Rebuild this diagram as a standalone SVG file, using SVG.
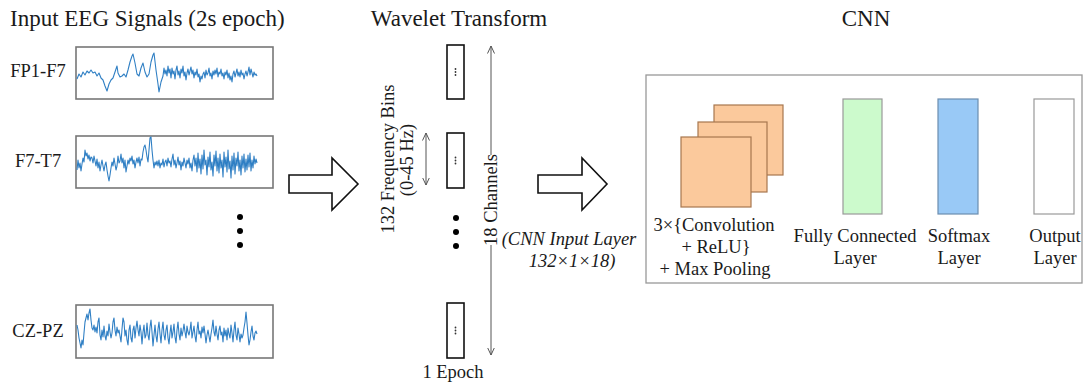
<svg xmlns="http://www.w3.org/2000/svg" width="1088" height="386" viewBox="0 0 1088 386">
<style>
text{font-family:"Liberation Serif","Times New Roman",serif;fill:#1a1a1a}
.title{font-size:23px}
.lbl{font-size:18.5px}
.it{font-size:18.5px;font-style:italic}
.eegbox{fill:#fff;stroke:#777;stroke-width:1.6}
.sig{fill:none;stroke:#2f7fc4;stroke-width:1.1;stroke-linejoin:round}
.wbox{fill:#fff;stroke:#111;stroke-width:1.6}
.dot{fill:#000}
.tiny{fill:#333}
.big{fill:#fff;stroke:#111;stroke-width:1.6;stroke-linejoin:miter}
.small{fill:#fff;stroke:#8a8a8a;stroke-width:1.2}
.dim{stroke:#555;stroke-width:1;fill:none}
.orange{fill:#fbc99c;stroke:#a7774f;stroke-width:1.2}
.layer{stroke:#999;stroke-width:1.2}
</style>
<defs>
<marker id="v" viewBox="0 0 8 8" refX="7.5" refY="4" markerWidth="8" markerHeight="8" markerUnits="userSpaceOnUse" orient="auto-start-reverse">
<path d="M0,0.5 L7.5,4 L0,7.5" fill="none" stroke="#555" stroke-width="1"/>
</marker>
</defs>

<g id="titles">
<text class="title" x="10" y="26">Input EEG Signals (2s epoch)</text>
<text class="title" x="459" y="26" text-anchor="middle">Wavelet Transform</text>
<text class="title" x="866" y="26" text-anchor="middle">CNN</text>
</g>

<g id="eeg-fp1-f7">
<text class="lbl" x="38" y="77" text-anchor="middle">FP1-F7</text>
<rect class="eegbox" x="76" y="47" width="197" height="52"/>
<polyline class="sig" points="77,79 79,74 81,77 83,72 85,75 87,71 89,73 91,70 93,73 95,72 97,76 99,73 101,78 103,80 105,86 107,91 109,84 111,80 113,78 115,72 117,66 118,73 120,77 122,76 124,74 126,77 128,70 130,62 132,56 133,54 135,63 137,74 139,76 141,68 143,63 145,72 147,77 149,74 151,62 153,55 154,53 156,70 158,84 159,92 161,82 163,76 164,68 165,74 166,70 167,76 168,66 169,73 170,69 171,78 172,68 173,74 174,71 175,79 176,70 177,66 178,75 179,71 180,78 181,69 182,73 183,66 184,76 185,72 186,80 187,73 188,69 189,75 190,71 191,67 192,74 193,70 194,78 195,72 196,75 197,69 198,77 199,74 200,82 201,76 202,79 203,74 204,72 205,78 206,70 207,75 208,73 209,68 210,76 211,73 212,79 213,71 214,75 215,70 216,74 217,68 218,77 219,72 220,74 221,69 222,76 223,73 224,79 225,72 226,75 227,70 228,78 229,73 230,80 231,76 232,82 233,74 234,71 235,77 236,73 237,69 238,76 239,72 240,77 241,70 242,75 243,73 244,79 245,74 246,71 247,76 248,72 249,67 250,75 251,69 252,73 253,77 254,72 255,75 256,74 257,76"/>
</g>

<g id="eeg-f7-t7">
<text class="lbl" x="38" y="167" text-anchor="middle">F7-T7</text>
<rect class="eegbox" x="76" y="136" width="197" height="52"/>
<polyline class="sig" points="77,170 78,160 79,168 80,163 81,171 82,164 83,158 84,162 85,150 86,156 87,153 88,159 89,155 90,161 91,157 92,158 93,163 94,156 95,161 96,166 97,159 98,168 99,162 100,171 101,165 102,160 103,166 104,171 105,165 106,162 107,170 108,176 109,181 110,175 111,168 112,162 113,166 114,158 115,164 116,170 117,166 118,156 119,163 120,161 121,154 122,163 123,158 124,168 125,160 126,172 127,166 128,160 129,164 130,158 131,161 132,156 133,164 134,160 135,168 136,162 137,158 138,163 139,157 140,166 141,159 142,160 143,152 144,147 145,145 146,150 147,157 148,162 149,150 150,138 151,137 152,150 153,160 154,168 155,162 156,165 157,161 158,166 159,160 160,168 161,163 162,165 163,159 164,167 165,162 166,160 167,166 168,158 169,163 170,161 171,167 172,159 173,154 174,165 175,160 176,168 177,163 178,157 179,165 180,161 181,170 182,162 183,166 184,158 185,163 186,168 187,160 188,164 189,158 190,168 191,163 192,171 193,160 194,155 195,166 196,158 197,172 198,153 199,168 200,159 201,174 202,155 203,169 204,150 205,165 206,160 207,175 208,157 209,167 210,152 211,170 212,162 213,176 214,155 215,166 216,151 217,171 218,158 219,173 220,154 221,168 222,160 223,177 224,152 225,167 226,157 227,172 228,150 229,169 230,161 231,178 232,156 233,170 234,153 235,174 236,158 237,166 238,152 239,171 240,160 241,175 242,156 243,168 244,154 245,172 246,159 247,170 248,155 249,167 250,153 251,171 252,160 253,168 254,156 255,164 256,159 257,163"/>
</g>

<g id="eeg-dots">
<circle class="dot" cx="240" cy="217" r="3"/>
<circle class="dot" cx="240" cy="231" r="3"/>
<circle class="dot" cx="240" cy="245" r="3"/>
</g>

<g id="eeg-cz-pz">
<text class="lbl" x="38" y="337" text-anchor="middle">CZ-PZ</text>
<rect class="eegbox" x="76" y="305" width="197" height="53"/>
<polyline class="sig" points="77,325 78,330 79,338 80,343 81,348 82,340 83,345 84,333 85,322 86,318 87,314 88,320 89,313 90,309 91,320 92,328 93,330 94,325 95,332 96,327 97,333 98,322 99,318 100,335 101,340 102,330 103,337 104,326 105,336 106,340 107,331 108,336 109,324 110,332 111,338 112,333 113,322 114,318 115,330 116,336 117,327 118,333 119,330 120,336 121,342 122,329 123,318 124,322 125,336 126,330 127,340 128,345 129,330 130,325 131,338 132,342 133,330 134,326 135,338 136,328 137,321 138,330 139,336 140,325 141,332 142,344 143,332 144,325 145,338 146,335 147,323 148,335 149,340 150,327 151,320 152,332 153,346 154,335 155,325 156,336 157,342 158,329 159,322 160,334 161,343 162,330 163,322 164,335 165,340 166,330 167,325 168,338 169,344 170,333 171,325 172,338 173,332 174,324 175,337 176,343 177,330 178,322 179,334 180,340 181,328 182,336 183,331 184,324 185,332 186,338 187,326 188,332 189,335 190,330 191,322 192,338 193,332 194,326 195,336 196,342 197,330 198,322 199,334 200,331 201,338 202,327 203,333 204,326 205,334 206,343 207,335 208,330 209,336 210,342 211,334 212,328 213,320 214,332 215,336 216,326 217,334 218,340 219,330 220,326 221,335 222,332 223,342 224,328 225,336 226,330 227,340 228,328 229,334 230,338 231,325 232,333 233,342 234,330 235,322 236,335 237,340 238,328 239,334 240,342 241,334 242,338 243,335 244,328 245,322 246,312 247,323 248,335 249,345 250,340 251,332 252,326 253,336 254,340 255,333 256,331 257,334"/>
</g>

<g id="wavelet-bin-1">
<rect class="wbox" x="447" y="45" width="17" height="54"/>
<circle class="tiny" cx="455.5" cy="69" r="0.9"/><circle class="tiny" cx="455.5" cy="72" r="0.9"/><circle class="tiny" cx="455.5" cy="75" r="0.9"/>
</g>
<g id="wavelet-bin-2">
<rect class="wbox" x="447" y="133" width="17" height="55"/>
<circle class="tiny" cx="455.5" cy="157.5" r="0.9"/><circle class="tiny" cx="455.5" cy="160.5" r="0.9"/><circle class="tiny" cx="455.5" cy="163.5" r="0.9"/>
</g>
<g id="wavelet-dots">
<circle class="dot" cx="456" cy="218" r="3"/>
<circle class="dot" cx="456" cy="232" r="3"/>
<circle class="dot" cx="456" cy="246" r="3"/>
</g>
<g id="wavelet-bin-3">
<rect class="wbox" x="447" y="303" width="17" height="55"/>
<circle class="tiny" cx="455.5" cy="327.5" r="0.9"/><circle class="tiny" cx="455.5" cy="330.5" r="0.9"/><circle class="tiny" cx="455.5" cy="333.5" r="0.9"/>
</g>

<g id="connectors">
<polygon class="big" points="289,175 332,175 332,158 358,184 332,210 332,193 289,193"/>
<polygon class="big" points="538,175 582,175 582,158 607,184 582,210 582,193 538,193"/>
<line class="dim" x1="426" y1="133" x2="426" y2="185" marker-start="url(#v)" marker-end="url(#v)"/>
<line class="dim" x1="491" y1="46" x2="491" y2="355" marker-start="url(#v)" marker-end="url(#v)"/>
<polygon class="small" points="789,150.5 818,150.5 818,140 837,156.5 818,173 818,162.5 789,162.5"/>
<polygon class="small" points="888,150.5 917,150.5 917,140 934,156.5 917,173 917,162.5 888,162.5"/>
<polygon class="small" points="983,150.5 1013,150.5 1013,140 1030,156.5 1013,173 1013,162.5 983,162.5"/>
</g>

<g id="wavelet-labels">
<text class="lbl" transform="translate(394,159) rotate(-90)" text-anchor="middle">132 Frequency Bins</text>
<text class="lbl" transform="translate(413,160) rotate(-90)" text-anchor="middle">(0-45 Hz)</text>
<rect x="483" y="155" width="16" height="90" fill="#fff"/>
<text class="lbl" transform="translate(497,200) rotate(-90)" text-anchor="middle">18 Channels</text>
<text class="lbl" x="453" y="378" text-anchor="middle">1 Epoch</text>
<text class="it" x="569" y="245" text-anchor="middle">(CNN Input Layer</text>
<text class="it" x="572" y="267" text-anchor="middle">132×1×18)</text>
</g>

<g id="cnn-frame">
<rect x="646" y="75" width="436" height="208" fill="#fff" stroke="#999" stroke-width="1.3"/>
</g>

<g id="conv-block">
<rect class="orange" x="714" y="105" width="69" height="70"/>
<rect class="orange" x="698" y="122" width="69" height="70"/>
<rect class="orange" x="681" y="137" width="70" height="70"/>
<text class="lbl" x="714" y="231" text-anchor="middle">3×{Convolution</text>
<text class="lbl" x="716" y="253" text-anchor="middle">+ ReLU}</text>
<text class="lbl" x="715" y="275" text-anchor="middle">+ Max Pooling</text>
</g>

<g id="fully-connected">
<rect class="layer" x="843" y="99" width="39" height="115" fill="#ccfacc"/>
<text class="lbl" x="855" y="242" text-anchor="middle">Fully Connected</text>
<text class="lbl" x="855" y="264" text-anchor="middle">Layer</text>
</g>

<g id="softmax">
<rect x="938" y="99" width="40" height="115" fill="#99c9f6" stroke="#6c8eb0" stroke-width="1.2"/>
<text class="lbl" x="959" y="242" text-anchor="middle">Softmax</text>
<text class="lbl" x="959" y="264" text-anchor="middle">Layer</text>
</g>

<g id="output">
<rect class="layer" x="1034" y="99" width="40" height="115" fill="#fff"/>
<text class="lbl" x="1055" y="242" text-anchor="middle">Output</text>
<text class="lbl" x="1055" y="264" text-anchor="middle">Layer</text>
</g>
</svg>
